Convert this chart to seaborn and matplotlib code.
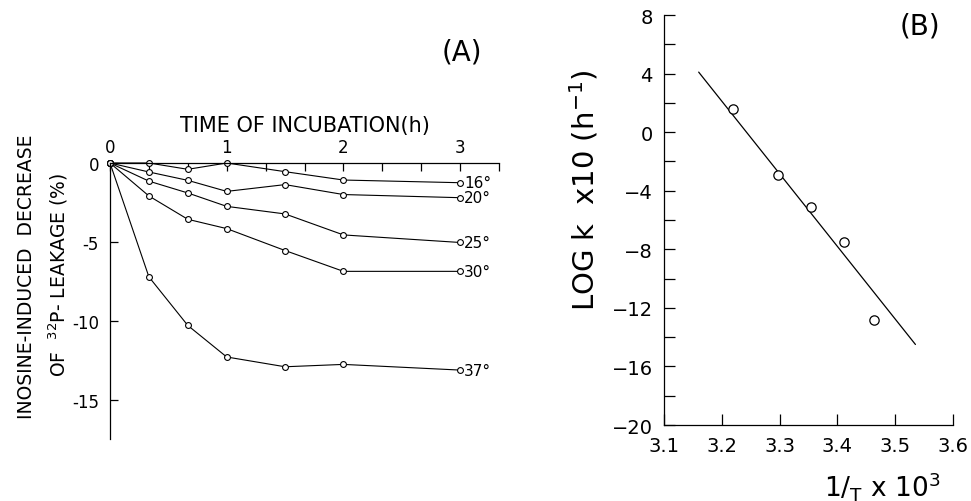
import numpy as np
import pandas as pd
import matplotlib
matplotlib.use("Agg")
import matplotlib.pyplot as plt
import seaborn as sns

# ---------------- data ----------------
times = [0, 1/3, 2/3, 1, 1.5, 2, 3]
temps = ["16°", "20°", "25°", "30°", "37°"]
leak_16 = [0, 0.0, -0.4, 0.0, -0.55, -1.08, -1.25]
leak_20 = [0, -0.57, -1.1, -1.8, -1.37, -2.0, -2.2]
leak_25 = [0, -1.15, -1.9, -2.75, -3.23, -4.56, -5.04]
leak_30 = [0, -2.09, -3.57, -4.16, -5.55, -6.87, -6.87]
leak_37 = [0, -7.22, -10.3, -12.3, -12.92, -12.77, -13.13]

inv_T = [3.22, 3.298, 3.355, 3.412, 3.463]
log_k = [1.6, -2.9, -5.1, -7.5, -12.8]
fit_x = [3.16, 3.535]
fit_y = [4.1, -14.5]

series = [leak_16, leak_20, leak_25, leak_30, leak_37]

sns.set_style("ticks")
plt.rcParams["font.family"] = ["DejaVu Sans"]
plt.rcParams["mathtext.fontset"] = "dejavusans"
for k in ["text.color", "axes.labelcolor", "xtick.color", "ytick.color", "axes.edgecolor"]:
    plt.rcParams[k] = "black"

W, H = 971, 502
fig = plt.figure(figsize=(9.71, 5.02), dpi=100)

# ---------------- Panel A ----------------
axA = fig.add_axes([110/W, 1-440/H, 389/W, (440-164)/H])
for temp, vals in zip(temps, series):
    df = pd.DataFrame({"t": times, "v": vals})
    sns.lineplot(data=df, x="t", y="v", ax=axA, color="black", lw=0.8,
                 marker="o", markersize=4.2, markerfacecolor="white",
                 markeredgecolor="black", markeredgewidth=0.8, clip_on=False,
                 estimator=None, sort=False)
    axA.annotate(temp, xy=(times[-1], vals[-1]), xytext=(3, 0),
                 textcoords="offset points", ha="left", va="center",
                 fontsize=11)

axA.set_xlim(0, 3.333)
axA.set_ylim(-17.5, 0)
axA.spines["bottom"].set_visible(False)
axA.spines["right"].set_visible(False)
axA.spines["top"].set_linewidth(0.9)
axA.spines["left"].set_linewidth(0.9)
axA.xaxis.tick_top()
axA.xaxis.set_label_position("top")
axA.set_xticks([0, 1, 2, 3])
axA.set_xticks([1/3, 2/3, 4/3, 5/3, 7/3, 8/3, 3.333], minor=True)
axA.set_xticklabels(["0", "1", "2", "3"])
axA.set_yticks([0, -5, -10, -15])
axA.set_yticklabels(["0", "-5", "-10", "-15"])
axA.tick_params(axis="x", which="both", direction="in", length=6, width=0.9,
                labelsize=12, pad=5, top=True, bottom=False)
axA.tick_params(axis="y", which="both", direction="in", length=6, width=0.9,
                labelsize=12, pad=8)
axA.set_xlabel("TIME OF INCUBATION(h)", fontsize=15, labelpad=5)
axA.set_ylabel("")
fig.text(462/W, 1-52/H, "(A)", fontsize=20, ha="center", va="center")

fig.text(27/W, 1-277/H, "INOSINE-INDUCED  DECREASE", rotation=90,
         ha="center", va="center", fontsize=13.5)
fig.text(58/W, 1-275/H, r"OF  $^{\mathregular{32}}$P- LEAKAGE (%)", rotation=90,
         ha="center", va="center", fontsize=13.5)

# ---------------- Panel B ----------------
axB = fig.add_axes([664/W, 1-426/H, 289/W, (426-16)/H])
sns.lineplot(x=fit_x, y=fit_y, ax=axB, color="black", lw=0.9)
sns.scatterplot(x=inv_T, y=log_k, ax=axB, s=45, facecolor="white",
                edgecolor="black", linewidth=0.9, zorder=3)
axB.set_xlim(3.1, 3.6)
axB.set_ylim(-20, 8)
axB.spines["top"].set_visible(False)
axB.spines["right"].set_visible(False)
axB.spines["bottom"].set_linewidth(0.9)
axB.spines["left"].set_linewidth(0.9)
axB.set_xticks([3.1, 3.2, 3.3, 3.4, 3.5, 3.6])
axB.set_xticklabels(["3.1", "3.2", "3.3", "3.4", "3.5", "3.6"])
axB.set_yticks([8, 4, 0, -4, -8, -12, -16, -20])
axB.set_yticklabels(["8", "4", "0", "\u22124", "\u22128", "\u221212", "\u221216", "\u221220"])
axB.set_yticks([6, 2, -2, -6, -10, -14, -18], minor=True)
axB.tick_params(axis="both", which="both", direction="in", length=8, width=0.9,
                labelsize=14, pad=8)
axB.set_ylabel(r"LOG k  x10 (h$^{\mathregular{-1}}$)", fontsize=21)
axB.yaxis.set_label_coords((600-664)/289, (426-190)/(426-16))
axB.set_xlabel("")
fig.text(920/W, 1-27/H, "(B)", fontsize=20, ha="center", va="center")
fig.text(882/W, 1-487/H, r"1/$_{\mathregular{T}}$ x 10$^{\mathregular{3}}$",
         ha="center", va="center", fontsize=19)

fig.savefig("out.png", dpi=100, facecolor="white")
